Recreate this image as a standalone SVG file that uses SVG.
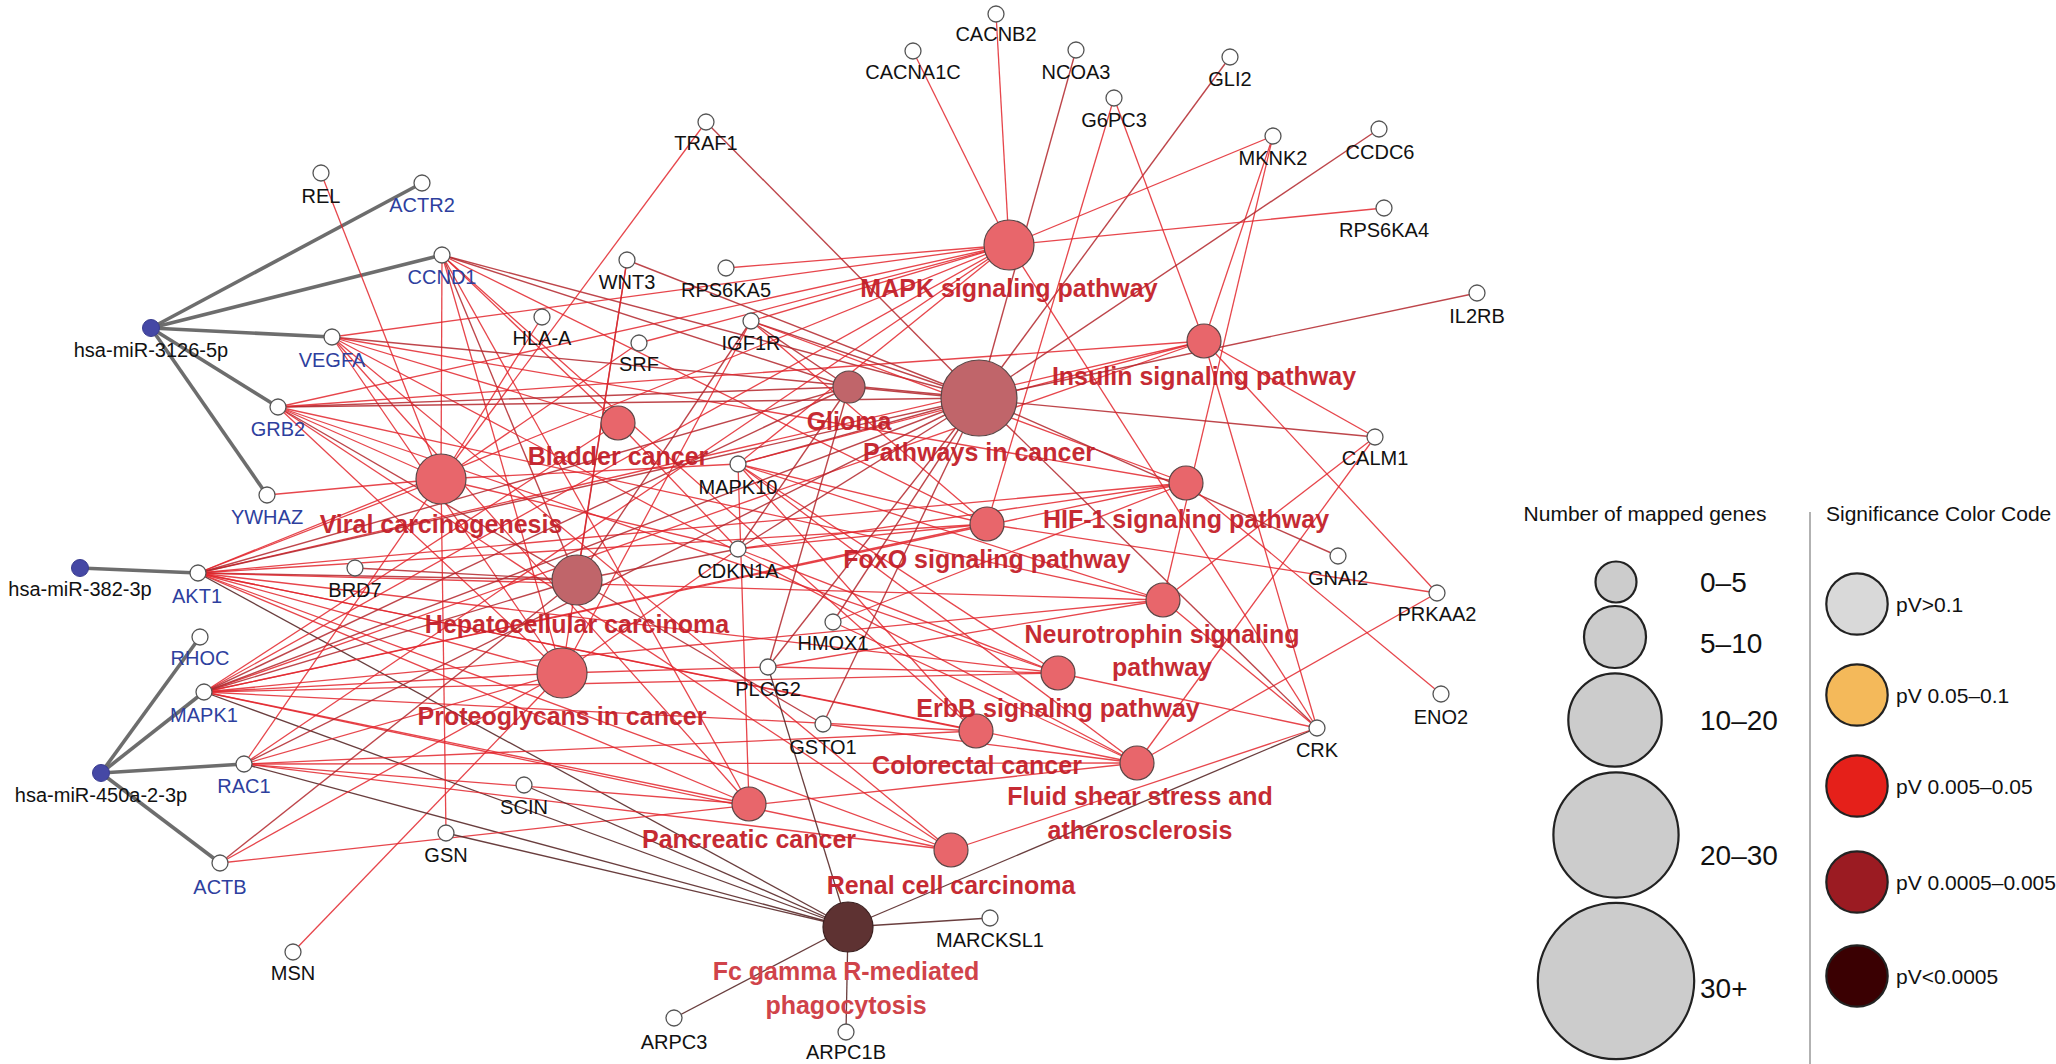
<svg xmlns="http://www.w3.org/2000/svg" width="2056" height="1064" viewBox="0 0 2056 1064">
<style>
text{font-family:"Liberation Sans",Arial,Helvetica,sans-serif}
.e{stroke:#e3262d;stroke-width:1.3;opacity:.85}
.d{stroke:#b3262c;stroke-width:1.4;opacity:.85}
.f{stroke:#5a2a2a;stroke-width:1.3;opacity:.9}
.m{stroke:#666;stroke-width:3.6;opacity:.95}
.g{fill:#fff;stroke:#555;stroke-width:1.3}
.mi{fill:#4548a5;stroke:#3a3d90;stroke-width:1}
.pl{fill:#e8666b;stroke:#5a4646;stroke-width:1.2}
.pm{fill:#c0656a;stroke:#5a4646;stroke-width:1.2}
.pd{fill:#5e3232;stroke:#3a2020;stroke-width:1.2}
.gt{font-size:20px;fill:#111;text-anchor:middle}
.bt{font-size:20px;fill:#2e3f9e;text-anchor:middle}
.pt{font-size:25px;font-weight:bold;fill:#c41f2a;text-anchor:middle;opacity:.95}
.pf{font-size:25px;font-weight:bold;fill:#d0434a;text-anchor:middle}
.lh{font-size:21px;fill:#111}
.ln{font-size:28px;fill:#111}
.lp{font-size:21px;fill:#111}
.sz{fill:#cccccc;stroke:#222;stroke-width:2.2}
.cc{stroke:#222;stroke-width:2.2}
</style>
<rect width="2056" height="1064" fill="#fff"/>
<g id="connectors">
<!-- miRNA edges -->
<line class="m" x1="151" y1="328" x2="422" y2="183"/>
<line class="m" x1="151" y1="328" x2="442" y2="255"/>
<line class="m" x1="151" y1="328" x2="332" y2="337"/>
<line class="m" x1="151" y1="328" x2="278" y2="407"/>
<line class="m" x1="151" y1="328" x2="267" y2="495"/>
<line class="m" x1="80" y1="568" x2="198" y2="573"/>
<line class="m" x1="101" y1="773" x2="200" y2="637"/>
<line class="m" x1="101" y1="773" x2="204" y2="692"/>
<line class="m" x1="101" y1="773" x2="244" y2="764"/>
<line class="m" x1="101" y1="773" x2="220" y2="863"/>
<!-- CCND1 -->
<line class="d" x1="442" y1="255" x2="979" y2="398"/>
<line class="d" x1="442" y1="255" x2="849" y2="387"/>
<line class="e" x1="442" y1="255" x2="618" y2="423"/>
<line class="e" x1="442" y1="255" x2="441" y2="479"/>
<line class="e" x1="442" y1="255" x2="987" y2="524"/>
<line class="d" x1="442" y1="255" x2="577" y2="580"/>
<line class="e" x1="442" y1="255" x2="562" y2="673"/>
<line class="e" x1="442" y1="255" x2="976" y2="731"/>
<line class="e" x1="442" y1="255" x2="749" y2="804"/>
<!-- VEGFA -->
<line class="d" x1="332" y1="337" x2="979" y2="398"/>
<line class="e" x1="332" y1="337" x2="618" y2="423"/>
<line class="e" x1="332" y1="337" x2="1186" y2="483"/>
<line class="e" x1="332" y1="337" x2="562" y2="673"/>
<line class="e" x1="332" y1="337" x2="1137" y2="763"/>
<line class="e" x1="332" y1="337" x2="749" y2="804"/>
<line class="e" x1="332" y1="337" x2="951" y2="850"/>
<line class="e" x1="332" y1="337" x2="1009" y2="245"/>
<!-- GRB2 -->
<line class="d" x1="278" y1="407" x2="979" y2="398"/>
<line class="d" x1="278" y1="407" x2="849" y2="387"/>
<line class="d" x1="278" y1="407" x2="577" y2="580"/>
<line class="e" x1="278" y1="407" x2="562" y2="673"/>
<line class="e" x1="278" y1="407" x2="1058" y2="673"/>
<line class="e" x1="278" y1="407" x2="1163" y2="600"/>
<line class="e" x1="278" y1="407" x2="1204" y2="341"/>
<line class="e" x1="278" y1="407" x2="951" y2="850"/>
<line class="e" x1="278" y1="407" x2="1009" y2="245"/>
<line class="e" x1="278" y1="407" x2="441" y2="479"/>
<!-- YWHAZ, REL, HLA-A, SRF, BRD7, MSN -->
<line class="e" x1="267" y1="495" x2="441" y2="479"/>
<line class="e" x1="321" y1="173" x2="441" y2="479"/>
<line class="e" x1="542" y1="317" x2="441" y2="479"/>
<line class="e" x1="639" y1="343" x2="441" y2="479"/>
<line class="e" x1="639" y1="343" x2="1009" y2="245"/>
<line class="d" x1="355" y1="568" x2="577" y2="580"/>
<line class="e" x1="293" y1="952" x2="562" y2="673"/>
<!-- AKT1 -->
<line class="e" x1="198" y1="573" x2="1009" y2="245"/>
<line class="e" x1="198" y1="573" x2="1204" y2="341"/>
<line class="d" x1="198" y1="573" x2="979" y2="398"/>
<line class="d" x1="198" y1="573" x2="849" y2="387"/>
<line class="e" x1="198" y1="573" x2="441" y2="479"/>
<line class="e" x1="198" y1="573" x2="1186" y2="483"/>
<line class="e" x1="198" y1="573" x2="987" y2="524"/>
<line class="d" x1="198" y1="573" x2="577" y2="580"/>
<line class="e" x1="198" y1="573" x2="1163" y2="600"/>
<line class="e" x1="198" y1="573" x2="562" y2="673"/>
<line class="e" x1="198" y1="573" x2="1058" y2="673"/>
<line class="e" x1="198" y1="573" x2="976" y2="731"/>
<line class="e" x1="198" y1="573" x2="1137" y2="763"/>
<line class="e" x1="198" y1="573" x2="749" y2="804"/>
<line class="e" x1="198" y1="573" x2="951" y2="850"/>
<line class="f" x1="198" y1="573" x2="848" y2="927"/>
<!-- MAPK1 -->
<line class="e" x1="204" y1="692" x2="1009" y2="245"/>
<line class="e" x1="204" y1="692" x2="1204" y2="341"/>
<line class="d" x1="204" y1="692" x2="979" y2="398"/>
<line class="d" x1="204" y1="692" x2="849" y2="387"/>
<line class="e" x1="204" y1="692" x2="618" y2="423"/>
<line class="e" x1="204" y1="692" x2="1186" y2="483"/>
<line class="e" x1="204" y1="692" x2="987" y2="524"/>
<line class="d" x1="204" y1="692" x2="577" y2="580"/>
<line class="e" x1="204" y1="692" x2="1163" y2="600"/>
<line class="e" x1="204" y1="692" x2="562" y2="673"/>
<line class="e" x1="204" y1="692" x2="1058" y2="673"/>
<line class="e" x1="204" y1="692" x2="976" y2="731"/>
<line class="e" x1="204" y1="692" x2="749" y2="804"/>
<line class="e" x1="204" y1="692" x2="951" y2="850"/>
<line class="f" x1="204" y1="692" x2="848" y2="927"/>
<!-- RAC1 -->
<line class="e" x1="244" y1="764" x2="1009" y2="245"/>
<line class="d" x1="244" y1="764" x2="979" y2="398"/>
<line class="e" x1="244" y1="764" x2="441" y2="479"/>
<line class="e" x1="244" y1="764" x2="562" y2="673"/>
<line class="e" x1="244" y1="764" x2="976" y2="731"/>
<line class="e" x1="244" y1="764" x2="1137" y2="763"/>
<line class="e" x1="244" y1="764" x2="749" y2="804"/>
<line class="e" x1="244" y1="764" x2="951" y2="850"/>
<line class="f" x1="244" y1="764" x2="848" y2="927"/>
<!-- ACTB, GSN, SCIN -->
<line class="e" x1="220" y1="863" x2="562" y2="673"/>
<line class="d" x1="220" y1="863" x2="577" y2="580"/>
<line class="e" x1="220" y1="863" x2="1137" y2="763"/>
<line class="e" x1="446" y1="833" x2="441" y2="479"/>
<line class="f" x1="446" y1="833" x2="848" y2="927"/>
<line class="f" x1="524" y1="785" x2="848" y2="927"/>
<!-- TRAF1, WNT3, RPS6KA5 -->
<line class="e" x1="706" y1="122" x2="441" y2="479"/>
<line class="d" x1="706" y1="122" x2="979" y2="398"/>
<line class="d" x1="627" y1="260" x2="577" y2="580"/>
<line class="d" x1="627" y1="260" x2="979" y2="398"/>
<line class="e" x1="627" y1="260" x2="562" y2="673"/>
<line class="e" x1="726" y1="268" x2="1009" y2="245"/>
<!-- IGF1R -->
<line class="e" x1="751" y1="321" x2="1009" y2="245"/>
<line class="d" x1="751" y1="321" x2="979" y2="398"/>
<line class="d" x1="751" y1="321" x2="849" y2="387"/>
<line class="e" x1="751" y1="321" x2="987" y2="524"/>
<line class="e" x1="751" y1="321" x2="1186" y2="483"/>
<line class="d" x1="751" y1="321" x2="577" y2="580"/>
<line class="e" x1="751" y1="321" x2="562" y2="673"/>
<!-- MAPK10 -->
<line class="e" x1="738" y1="464" x2="1009" y2="245"/>
<line class="d" x1="738" y1="464" x2="979" y2="398"/>
<line class="e" x1="738" y1="464" x2="987" y2="524"/>
<line class="e" x1="738" y1="464" x2="1163" y2="600"/>
<line class="e" x1="738" y1="464" x2="1058" y2="673"/>
<line class="e" x1="738" y1="464" x2="976" y2="731"/>
<line class="e" x1="738" y1="464" x2="749" y2="804"/>
<line class="e" x1="738" y1="464" x2="1204" y2="341"/>
<line class="e" x1="738" y1="464" x2="1137" y2="763"/>
<line class="e" x1="738" y1="464" x2="441" y2="479"/>
<!-- CDKN1A -->
<line class="d" x1="738" y1="549" x2="979" y2="398"/>
<line class="e" x1="738" y1="549" x2="618" y2="423"/>
<line class="e" x1="738" y1="549" x2="987" y2="524"/>
<line class="e" x1="738" y1="549" x2="1186" y2="483"/>
<line class="d" x1="738" y1="549" x2="849" y2="387"/>
<line class="d" x1="738" y1="549" x2="577" y2="580"/>
<line class="e" x1="738" y1="549" x2="562" y2="673"/>
<line class="e" x1="738" y1="549" x2="441" y2="479"/>
<line class="e" x1="738" y1="549" x2="1058" y2="673"/>
<!-- HMOX1, PLCG2, GSTO1 -->
<line class="e" x1="833" y1="622" x2="1186" y2="483"/>
<line class="e" x1="833" y1="622" x2="1137" y2="763"/>
<line class="d" x1="833" y1="622" x2="979" y2="398"/>
<line class="e" x1="768" y1="667" x2="1058" y2="673"/>
<line class="d" x1="768" y1="667" x2="849" y2="387"/>
<line class="e" x1="768" y1="667" x2="562" y2="673"/>
<line class="f" x1="768" y1="667" x2="848" y2="927"/>
<line class="e" x1="768" y1="667" x2="1163" y2="600"/>
<line class="d" x1="768" y1="667" x2="979" y2="398"/>
<line class="d" x1="823" y1="724" x2="577" y2="580"/>
<line class="d" x1="823" y1="724" x2="979" y2="398"/>
<line class="e" x1="823" y1="724" x2="1137" y2="763"/>
<!-- top genes -->
<line class="e" x1="996" y1="13" x2="1009" y2="245"/>
<line class="e" x1="913" y1="51" x2="1009" y2="245"/>
<line class="d" x1="1076" y1="50" x2="979" y2="398"/>
<line class="d" x1="1230" y1="57" x2="979" y2="398"/>
<line class="e" x1="1114" y1="98" x2="1204" y2="341"/>
<line class="e" x1="1114" y1="98" x2="987" y2="524"/>
<line class="e" x1="1273" y1="136" x2="1009" y2="245"/>
<line class="e" x1="1273" y1="136" x2="1204" y2="341"/>
<line class="e" x1="1273" y1="136" x2="1163" y2="600"/>
<line class="d" x1="1379" y1="129" x2="979" y2="398"/>
<line class="e" x1="1384" y1="208" x2="1009" y2="245"/>
<line class="d" x1="1477" y1="293" x2="979" y2="398"/>
<!-- right genes -->
<line class="d" x1="1375" y1="437" x2="849" y2="387"/>
<line class="e" x1="1375" y1="437" x2="1204" y2="341"/>
<line class="e" x1="1375" y1="437" x2="1163" y2="600"/>
<line class="e" x1="1375" y1="437" x2="1137" y2="763"/>
<line class="d" x1="1338" y1="556" x2="979" y2="398"/>
<line class="e" x1="1437" y1="593" x2="1204" y2="341"/>
<line class="e" x1="1437" y1="593" x2="987" y2="524"/>
<line class="e" x1="1437" y1="593" x2="1137" y2="763"/>
<line class="e" x1="1441" y1="694" x2="1186" y2="483"/>
<line class="e" x1="1317" y1="728" x2="1009" y2="245"/>
<line class="e" x1="1317" y1="728" x2="1204" y2="341"/>
<line class="d" x1="1317" y1="728" x2="979" y2="398"/>
<line class="e" x1="1317" y1="728" x2="1163" y2="600"/>
<line class="e" x1="1317" y1="728" x2="1058" y2="673"/>
<line class="e" x1="1317" y1="728" x2="951" y2="850"/>
<line class="f" x1="1317" y1="728" x2="848" y2="927"/>
<!-- bottom genes -->
<line class="f" x1="990" y1="918" x2="848" y2="927"/>
<line class="f" x1="674" y1="1018" x2="848" y2="927"/>
<line class="f" x1="846" y1="1032" x2="848" y2="927"/>
</g>
<g id="pathways">
<g id="p-mapk"><circle class="pl" cx="1009" cy="245" r="25"/></g>
<g id="p-insulin"><circle class="pl" cx="1204" cy="341" r="17"/></g>
<g id="p-cancer"><circle class="pm" cx="979" cy="398" r="38"/></g>
<g id="p-glioma"><circle class="pm" cx="849" cy="387" r="16"/></g>
<g id="p-bladder"><circle class="pl" cx="618" cy="423" r="17"/></g>
<g id="p-viral"><circle class="pl" cx="441" cy="479" r="25"/></g>
<g id="p-hif1"><circle class="pl" cx="1186" cy="483" r="17"/></g>
<g id="p-foxo"><circle class="pl" cx="987" cy="524" r="17"/></g>
<g id="p-hcc"><circle class="pm" cx="577" cy="580" r="25"/></g>
<g id="p-neuro"><circle class="pl" cx="1163" cy="600" r="17"/></g>
<g id="p-proteo"><circle class="pl" cx="562" cy="673" r="25"/></g>
<g id="p-erbb"><circle class="pl" cx="1058" cy="673" r="17"/></g>
<g id="p-colo"><circle class="pl" cx="976" cy="731" r="17"/></g>
<g id="p-fluid"><circle class="pl" cx="1137" cy="763" r="17"/></g>
<g id="p-pancreatic"><circle class="pl" cx="749" cy="804" r="17"/></g>
<g id="p-renal"><circle class="pl" cx="951" cy="850" r="17"/></g>
<g id="p-fcgamma"><circle class="pd" cx="848" cy="927" r="25"/></g>
</g>
<g id="genes">
<g id="g-REL"><circle class="g" cx="321" cy="173" r="8"/><text class="gt" x="321" y="203">REL</text></g>
<g id="g-ACTR2"><circle class="g" cx="422" cy="183" r="8"/><text class="bt" x="422" y="212">ACTR2</text></g>
<g id="g-CCND1"><circle class="g" cx="442" cy="255" r="8"/><text class="bt" x="442" y="284">CCND1</text></g>
<g id="g-VEGFA"><circle class="g" cx="332" cy="337" r="8"/><text class="bt" x="332" y="367">VEGFA</text></g>
<g id="g-GRB2"><circle class="g" cx="278" cy="407" r="8"/><text class="bt" x="278" y="436">GRB2</text></g>
<g id="g-YWHAZ"><circle class="g" cx="267" cy="495" r="8"/><text class="bt" x="267" y="524">YWHAZ</text></g>
<g id="g-AKT1"><circle class="g" cx="198" cy="573" r="8"/><text class="bt" x="197" y="603">AKT1</text></g>
<g id="g-BRD7"><circle class="g" cx="355" cy="568" r="8"/><text class="gt" x="355" y="597">BRD7</text></g>
<g id="g-RHOC"><circle class="g" cx="200" cy="637" r="8"/><text class="bt" x="200" y="665">RHOC</text></g>
<g id="g-MAPK1"><circle class="g" cx="204" cy="692" r="8"/><text class="bt" x="204" y="722">MAPK1</text></g>
<g id="g-RAC1"><circle class="g" cx="244" cy="764" r="8"/><text class="bt" x="244" y="793">RAC1</text></g>
<g id="g-ACTB"><circle class="g" cx="220" cy="863" r="8"/><text class="bt" x="220" y="894">ACTB</text></g>
<g id="g-GSN"><circle class="g" cx="446" cy="833" r="8"/><text class="gt" x="446" y="862">GSN</text></g>
<g id="g-MSN"><circle class="g" cx="293" cy="952" r="8"/><text class="gt" x="293" y="980">MSN</text></g>
<g id="g-SCIN"><circle class="g" cx="524" cy="785" r="8"/><text class="gt" x="524" y="814">SCIN</text></g>
<g id="g-TRAF1"><circle class="g" cx="706" cy="122" r="8"/><text class="gt" x="706" y="150">TRAF1</text></g>
<g id="g-WNT3"><circle class="g" cx="627" cy="260" r="8"/><text class="gt" x="627" y="289">WNT3</text></g>
<g id="g-RPS6KA5"><circle class="g" cx="726" cy="268" r="8"/><text class="gt" x="726" y="297">RPS6KA5</text></g>
<g id="g-HLA-A"><circle class="g" cx="542" cy="317" r="8"/><text class="gt" x="542" y="345">HLA-A</text></g>
<g id="g-SRF"><circle class="g" cx="639" cy="343" r="8"/><text class="gt" x="639" y="371">SRF</text></g>
<g id="g-IGF1R"><circle class="g" cx="751" cy="321" r="8"/><text class="gt" x="751" y="350">IGF1R</text></g>
<g id="g-MAPK10"><circle class="g" cx="738" cy="464" r="8"/><text class="gt" x="738" y="494">MAPK10</text></g>
<g id="g-CDKN1A"><circle class="g" cx="738" cy="549" r="8"/><text class="gt" x="738" y="578">CDKN1A</text></g>
<g id="g-HMOX1"><circle class="g" cx="833" cy="622" r="8"/><text class="gt" x="833" y="650">HMOX1</text></g>
<g id="g-PLCG2"><circle class="g" cx="768" cy="667" r="8"/><text class="gt" x="768" y="696">PLCG2</text></g>
<g id="g-GSTO1"><circle class="g" cx="823" cy="724" r="8"/><text class="gt" x="823" y="754">GSTO1</text></g>
<g id="g-CACNB2"><circle class="g" cx="996" cy="14" r="8"/><text class="gt" x="996" y="41">CACNB2</text></g>
<g id="g-CACNA1C"><circle class="g" cx="913" cy="51" r="8"/><text class="gt" x="913" y="79">CACNA1C</text></g>
<g id="g-NCOA3"><circle class="g" cx="1076" cy="50" r="8"/><text class="gt" x="1076" y="79">NCOA3</text></g>
<g id="g-GLI2"><circle class="g" cx="1230" cy="57" r="8"/><text class="gt" x="1230" y="86">GLI2</text></g>
<g id="g-G6PC3"><circle class="g" cx="1114" cy="98" r="8"/><text class="gt" x="1114" y="127">G6PC3</text></g>
<g id="g-MKNK2"><circle class="g" cx="1273" cy="136" r="8"/><text class="gt" x="1273" y="165">MKNK2</text></g>
<g id="g-CCDC6"><circle class="g" cx="1379" cy="129" r="8"/><text class="gt" x="1380" y="159">CCDC6</text></g>
<g id="g-RPS6KA4"><circle class="g" cx="1384" cy="208" r="8"/><text class="gt" x="1384" y="237">RPS6KA4</text></g>
<g id="g-IL2RB"><circle class="g" cx="1477" cy="293" r="8"/><text class="gt" x="1477" y="323">IL2RB</text></g>
<g id="g-CALM1"><circle class="g" cx="1375" cy="437" r="8"/><text class="gt" x="1375" y="465">CALM1</text></g>
<g id="g-GNAI2"><circle class="g" cx="1338" cy="556" r="8"/><text class="gt" x="1338" y="585">GNAI2</text></g>
<g id="g-PRKAA2"><circle class="g" cx="1437" cy="593" r="8"/><text class="gt" x="1437" y="621">PRKAA2</text></g>
<g id="g-ENO2"><circle class="g" cx="1441" cy="694" r="8"/><text class="gt" x="1441" y="724">ENO2</text></g>
<g id="g-CRK"><circle class="g" cx="1317" cy="728" r="8"/><text class="gt" x="1317" y="757">CRK</text></g>
<g id="g-MARCKSL1"><circle class="g" cx="990" cy="918" r="8"/><text class="gt" x="990" y="947">MARCKSL1</text></g>
<g id="g-ARPC3"><circle class="g" cx="674" cy="1018" r="8"/><text class="gt" x="674" y="1049">ARPC3</text></g>
<g id="g-ARPC1B"><circle class="g" cx="846" cy="1032" r="8"/><text class="gt" x="846" y="1059">ARPC1B</text></g>
</g>
<g id="mirnas">
<g id="m-3126"><circle class="mi" cx="151" cy="328" r="8.5"/><text class="gt" x="151" y="357">hsa-miR-3126-5p</text></g>
<g id="m-382"><circle class="mi" cx="80" cy="568" r="8.5"/><text class="gt" x="80" y="596">hsa-miR-382-3p</text></g>
<g id="m-450a"><circle class="mi" cx="101" cy="773" r="8.5"/><text class="gt" x="101" y="802">hsa-miR-450a-2-3p</text></g>
</g>
<g id="pathway-labels">
<text class="pt" x="1009" y="297">MAPK signaling pathway</text>
<text class="pt" x="1204" y="385">Insulin signaling pathway</text>
<text class="pt" x="979" y="461">Pathways in cancer</text>
<text class="pt" x="849" y="430">Glioma</text>
<text class="pt" x="618" y="465">Bladder cancer</text>
<text class="pt" x="441" y="533">Viral carcinogenesis</text>
<text class="pt" x="1186" y="528">HIF-1 signaling pathway</text>
<text class="pt" x="987" y="568">FoxO signaling pathway</text>
<text class="pt" x="577" y="633">Hepatocellular carcinoma</text>
<text class="pt" x="1162" y="643">Neurotrophin signaling</text>
<text class="pt" x="1162" y="676">pathway</text>
<text class="pt" x="562" y="725">Proteoglycans in cancer</text>
<text class="pt" x="1058" y="717">ErbB signaling pathway</text>
<text class="pt" x="977" y="774">Colorectal cancer</text>
<text class="pt" x="1140" y="805">Fluid shear stress and</text>
<text class="pt" x="1140" y="839">atherosclerosis</text>
<text class="pt" x="749" y="848">Pancreatic cancer</text>
<text class="pt" x="951" y="894">Renal cell carcinoma</text>
<text class="pf" x="846" y="980">Fc gamma R-mediated</text>
<text class="pf" x="846" y="1014">phagocytosis</text>
</g>
<g id="legend">
<text class="lh" x="1645" y="521" text-anchor="middle">Number of mapped genes</text>
<circle class="sz" cx="1616" cy="582" r="20.5"/>
<circle class="sz" cx="1615" cy="637" r="31"/>
<circle class="sz" cx="1615" cy="720" r="46.7"/>
<circle class="sz" cx="1616" cy="835" r="62.6"/>
<circle class="sz" cx="1616" cy="981" r="78.2"/>
<text class="ln" x="1700" y="592">0–5</text>
<text class="ln" x="1700" y="653">5–10</text>
<text class="ln" x="1700" y="730">10–20</text>
<text class="ln" x="1700" y="865">20–30</text>
<text class="ln" x="1700" y="998">30+</text>
<line x1="1810" y1="512" x2="1810" y2="1064" stroke="#999" stroke-width="1.5"/>
<text class="lh" x="1826" y="521">Significance Color Code</text>
<circle class="cc" cx="1857" cy="604" r="30.7" fill="#d9d9d9"/>
<circle class="cc" cx="1857" cy="695" r="30.7" fill="#f4b95a"/>
<circle class="cc" cx="1857" cy="786" r="30.7" fill="#e5201a"/>
<circle class="cc" cx="1857" cy="882" r="30.7" fill="#9b1b22"/>
<circle class="cc" cx="1857" cy="976" r="30.7" fill="#3a0002"/>
<text class="lp" x="1896" y="612">pV&gt;0.1</text>
<text class="lp" x="1896" y="703">pV 0.05–0.1</text>
<text class="lp" x="1896" y="794">pV 0.005–0.05</text>
<text class="lp" x="1896" y="890">pV 0.0005–0.005</text>
<text class="lp" x="1896" y="984">pV&lt;0.0005</text>
</g>
</svg>
